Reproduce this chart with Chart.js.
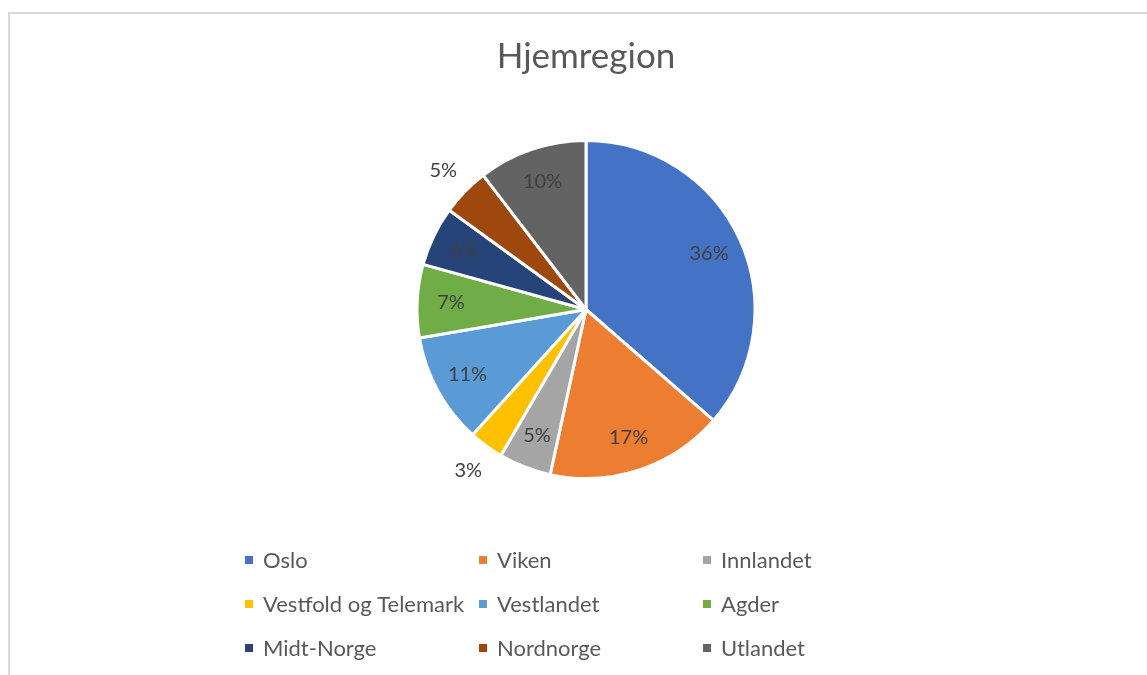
<!DOCTYPE html>
<html>
<head>
<meta charset="utf-8">
<script src="https://cdn.jsdelivr.net/npm/chart.js@4.4.1/dist/chart.umd.min.js"></script>
<style>
  html, body { margin: 0; padding: 0; background: #fff; overflow: hidden; }
  .frame {
    position: absolute; left: 8px; top: 12px; width: 1300px; height: 800px;
    border: 2px solid #d9d9d9; box-sizing: border-box;
  }
  .wrap { position: absolute; left: 0; top: 0; width: 1147px; height: 675px; }
</style>
</head>
<body>
<div class="frame"></div>
<div class="wrap"><canvas id="pieChart" width="1147" height="675"></canvas></div>
<script>
// * data hjemregion (andel i prosent)
const regioner = ["Oslo", "Viken", "Innlandet", "Vestfold og Telemark", "Vestlandet", "Agder", "Midt-Norge", "Nordnorge", "Utlandet"];
const andel = [36.4, 17.0, 5.0, 3.3, 10.6, 7.0, 5.7, 4.6, 10.4];
const farger = ["#4472C4", "#ED7D31", "#A5A5A5", "#FFC000", "#5B9BD5", "#70AD47", "#264478", "#9E480E", "#636363"];
const utenfor = ["Vestfold og Telemark", "Nordnorge"]; // labels placed outside the pie

const fontFam = "Lato, 'Liberation Sans', sans-serif";

// ? prosent-etiketter på hver bit
const pctLabels = {
  id: "pctLabels",
  afterDatasetsDraw(chart) {
    const ctx = chart.ctx;
    const meta = chart.getDatasetMeta(0);
    const data = chart.data.datasets[0].data;
    const total = data.reduce((a, b) => a + b, 0);
    ctx.save();
    ctx.font = "20px " + fontFam;
    ctx.fillStyle = "#404040";
    ctx.textAlign = "center";
    ctx.textBaseline = "middle";
    meta.data.forEach((arc, i) => {
      const p = arc.getProps(["x", "y", "startAngle", "endAngle", "outerRadius"], true);
      const mid = (p.startAngle + p.endAngle) / 2;
      const out = utenfor.includes(chart.data.labels[i]);
      const r = p.outerRadius * (out ? 1.18 : 0.8);
      const txt = Math.round((data[i] / total) * 100) + "%";
      ctx.fillText(txt, p.x + Math.cos(mid) * r, p.y + Math.sin(mid) * r);
    });
    ctx.restore();
  },
};

// ? legende i tre kolonner
const gridLegend = {
  id: "gridLegend",
  afterDraw(chart) {
    const ctx = chart.ctx;
    const colX = [245, 479, 703];
    const rowY = [560, 604, 648];
    ctx.save();
    ctx.font = "22px " + fontFam;
    ctx.textBaseline = "middle";
    ctx.textAlign = "left";
    chart.data.labels.forEach((lbl, i) => {
      const x = colX[i % 3];
      const y = rowY[Math.floor(i / 3)];
      ctx.fillStyle = chart.data.datasets[0].backgroundColor[i];
      ctx.fillRect(x, y - 4, 8, 8);
      ctx.fillStyle = "#595959";
      ctx.fillText(lbl, x + 18, y + 1);
    });
    ctx.restore();
  },
};

const pieCanvas = document.getElementById("pieChart").getContext("2d");
const pieChart = new Chart(pieCanvas, {
  type: "pie",
  data: {
    labels: regioner,
    datasets: [
      {
        data: andel,
        backgroundColor: farger,
        borderColor: "#ffffff",
        borderWidth: 3,
      },
    ],
  },
  options: {
    responsive: false,
    animation: false,
    layout: { padding: { left: 300, right: 275, top: 0, bottom: 195 } },
    plugins: {
      legend: { display: false },
      tooltip: { enabled: false },
      title: {
        display: true,
        text: "Hjemregion",
        color: "#595959",
        font: { family: fontFam, size: 35, weight: "normal", lineHeight: 1.2 },
        padding: { top: 36, bottom: 61 },
      },
    },
  },
  plugins: [pctLabels, gridLegend],
});
</script>
</body>
</html>
